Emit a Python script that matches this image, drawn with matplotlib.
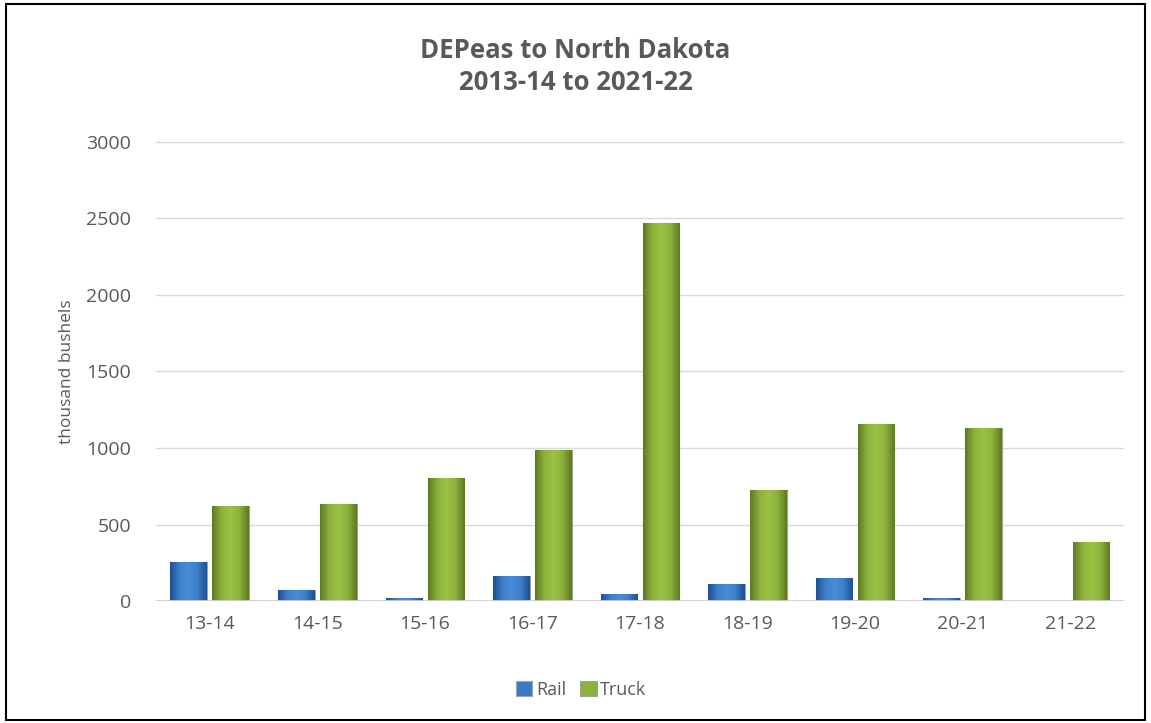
import matplotlib.pyplot as plt
import numpy as np
from matplotlib.patches import Rectangle
from matplotlib.colors import LinearSegmentedColormap

plt.rcParams['font.family'] = ['Open Sans', 'DejaVu Sans']

seasons = ['13-14', '14-15', '15-16', '16-17', '17-18', '18-19', '19-20', '20-21', '21-22']
rail = [255, 72, 18, 163, 46, 110, 150, 18, 0]
truck = [620, 635, 805, 985, 2470, 725, 1155, 1130, 385]

grey = '#595959'
fig = plt.figure(figsize=(11.51, 7.23), dpi=100)
ax = fig.add_axes([0.1355, 0.1687, 0.841, 0.635])

x = np.arange(len(seasons))
w = 0.34
rail_bars = ax.bar(x - 0.195, rail, w, color='#3A7AC4', edgecolor='#9AA5B5', linewidth=0.8,
                   label='Rail', zorder=3)
truck_bars = ax.bar(x + 0.195, truck, w, color='#8DB23C', edgecolor='#9AA58A', linewidth=0.8,
                    label='Truck', zorder=3)

# bevel-like shading across each bar
rail_cmap = LinearSegmentedColormap.from_list('r', ['#1F4F8F', '#3C7FCB', '#4A8CD6', '#3C7FCB', '#1F4F8F'])
truck_cmap = LinearSegmentedColormap.from_list('t', ['#5E7A22', '#8DB23C', '#9BC244', '#8DB23C', '#5E7A22'])
grad = np.linspace(0, 1, 64).reshape(1, -1)
for bars, cmap in [(rail_bars, rail_cmap), (truck_bars, truck_cmap)]:
    for b in bars:
        h = b.get_height()
        if h <= 0:
            continue
        x0 = b.get_x()
        im = ax.imshow(grad, cmap=cmap, aspect='auto', extent=(x0, x0 + b.get_width(), 0, h),
                       zorder=3.5, interpolation='bicubic')
        im.set_clip_path(b)

ax.set_xlim(-0.5, len(seasons) - 0.5)
ax.set_ylim(0, 3000)
ax.set_yticks(range(0, 3001, 500))
ax.set_xticks(x)
ax.set_xticklabels(seasons)
ax.grid(axis='y', color='#D9D9D9', linewidth=1, zorder=0)
ax.axhline(0, color='#D0D0D0', linewidth=2, zorder=4)
for s in ax.spines.values():
    s.set_visible(False)
ax.tick_params(axis='both', length=0, labelsize=14, labelcolor=grey)
ax.tick_params(axis='y', pad=18)
ax.tick_params(axis='x', pad=10)
ax.set_ylabel('thousand bushels', fontsize=12.5, color=grey, labelpad=8)

fig.text(0.5, 0.930, 'DEPeas to North Dakota', ha='center', va='center',
         fontsize=18.5, fontweight='bold', color=grey)
fig.text(0.5, 0.886, '2013-14 to 2021-22', ha='center', va='center',
         fontsize=18.5, fontweight='bold', color=grey)

leg = fig.legend(loc='center', bbox_to_anchor=(0.505, 0.046), ncol=2, frameon=False,
                 fontsize=13, handlelength=0.9, handleheight=0.9, handletextpad=0.2,
                 columnspacing=0.8)
for t in leg.get_texts():
    t.set_color(grey)

fig.patches.append(Rectangle((0.005, 0.004), 0.99, 0.99, transform=fig.transFigure,
                             fill=False, edgecolor='black', linewidth=1.5))

fig.savefig('out.png', dpi=100)
